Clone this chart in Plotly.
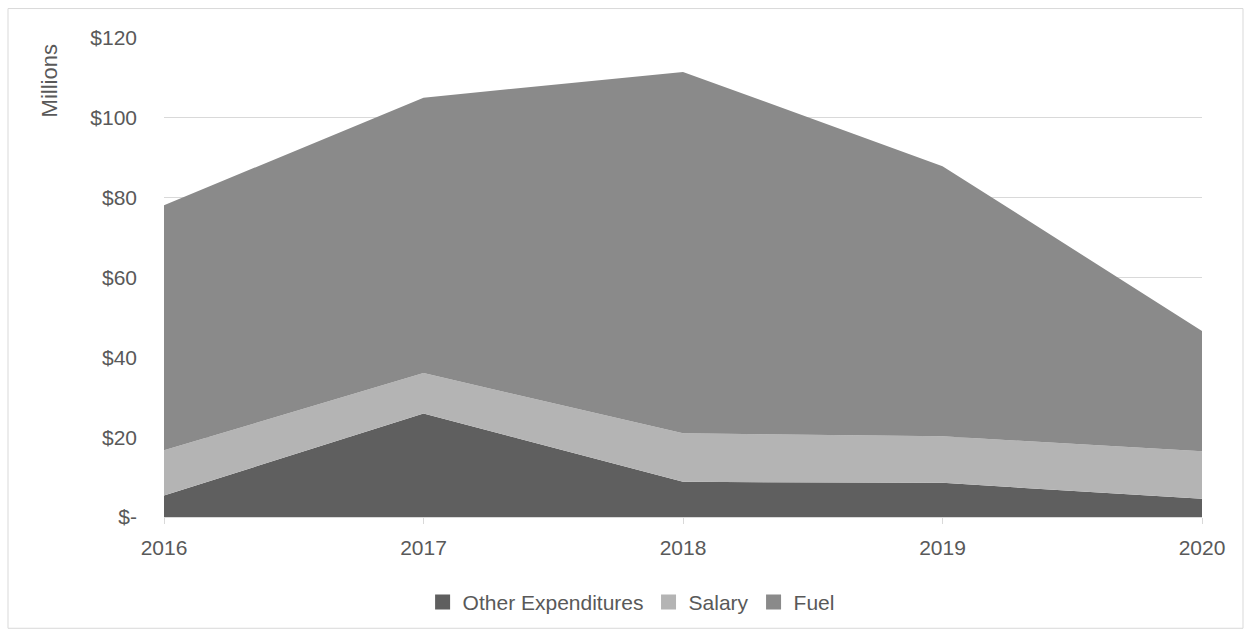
import plotly.graph_objects as go

# Annual expenditures, millions of dollars
years = ["2016", "2017", "2018", "2019", "2020"]
other_expenditures = [5.4, 25.9, 8.8, 8.55, 4.55]
salary = [11.3, 10.15, 12.2, 11.65, 11.9]
fuel = [61.4, 69.0, 90.5, 67.7, 30.15]

y_tick_values = [0, 20, 40, 60, 80, 100, 120]
y_tick_labels = ["$-", "$20", "$40", "$60", "$80", "$100", "$120"]

series = [
    ("Other Expenditures", other_expenditures, "#5f5f5f"),
    ("Salary", salary, "#b4b4b4"),
    ("Fuel", fuel, "#8a8a8a"),
]

TEXT = "#595959"
FONT = "Liberation Sans"
SIZE = 21

fig = go.Figure()
for name, values, color in series:
    fig.add_trace(go.Scatter(
        x=years, y=values, name=name, stackgroup="one",
        mode="none", fillcolor=color, line=dict(width=0),
        showlegend=False, hoverinfo="x+y+name",
    ))

# square legend swatches
for name, values, color in series:
    fig.add_trace(go.Scatter(
        x=[None], y=[None], name=name, mode="markers",
        marker=dict(symbol="square", size=15, color=color, line=dict(width=0)),
        showlegend=True,
    ))

fig.update_layout(
    width=1252, height=637,
    margin=dict(l=164, r=50, t=37.5, b=119.5),
    paper_bgcolor="white", plot_bgcolor="white",
    font=dict(family=FONT, size=SIZE, color=TEXT),
    showlegend=True,
    legend=dict(
        orientation="h", x=0.45, xanchor="center", y=-0.178, yanchor="middle",
        font=dict(family=FONT, size=SIZE, color=TEXT),
        itemsizing="trace", traceorder="normal",
        itemwidth=30, bgcolor="rgba(0,0,0,0)",
    ),
    xaxis=dict(
        type="category", range=[0, 4], showgrid=False,
        showline=True, linecolor="#d9d9d9", linewidth=1,
        ticks="outside", ticklen=6, tickcolor="#d9d9d9", tickwidth=1,
        ticklabelstandoff=6,
        tickfont=dict(family=FONT, size=SIZE, color=TEXT),
        zeroline=False,
    ),
    yaxis=dict(
        range=[0, 120], tickvals=y_tick_values, ticktext=y_tick_labels,
        showgrid=True, gridcolor="#d9d9d9", gridwidth=1,
        zeroline=False, showline=False, ticks="",
        ticklabelstandoff=26,
        tickfont=dict(family=FONT, size=SIZE, color=TEXT),
    ),
    annotations=[dict(
        text="Millions", textangle=-90, showarrow=False,
        xref="paper", yref="paper", x=-0.11, y=0.911,
        xanchor="center", yanchor="middle",
        font=dict(family=FONT, size=22, color=TEXT),
    )],
    shapes=[dict(
        type="rect", xref="paper", yref="paper",
        x0=(8 - 164) / 1038, x1=(1243 - 164) / 1038,
        y0=(517.5 - 629) / 480, y1=(517.5 - 8) / 480,
        line=dict(color="#d9d9d9", width=1), layer="below",
    )],
)

fig.write_html("out.html")
